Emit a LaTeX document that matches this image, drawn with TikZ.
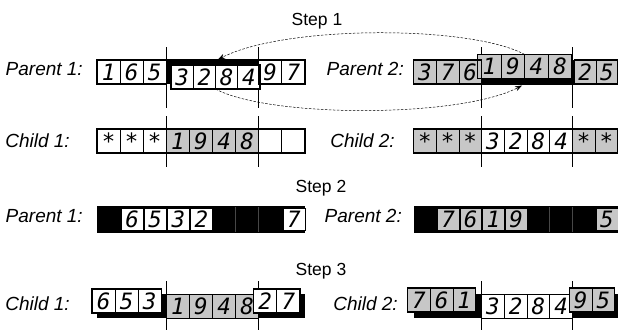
\documentclass[tikz,border=0pt]{standalone}
\usepackage{fontspec}
\setmainfont{Liberation Sans}
\newfontfamily\cellfont{DejaVu Sans Mono Oblique}
\usetikzlibrary{arrows.meta}
\begin{document}
\begin{tikzpicture}[x=1pt,y=-1pt,
  cellbox/.style={draw=black, line width=0.8pt, inner sep=0pt, outer sep=0pt,
    anchor=north west, minimum height=24pt,
    font=\cellfont\fontsize{22.5}{22.5}\selectfont, text height=16.3pt, text depth=0pt},
  inset/.style={cellbox, minimum height=21.5pt, line width=0.6pt},
  grey/.style={fill=black!22},
  wht/.style={fill=white},
  grp/.style={draw=black, line width=1.5pt},
  cutline/.style={draw=black, line width=0.7pt},
  faint/.style={draw=black!72, line width=0.5pt},
  lab/.style={anchor=base east, inner sep=0pt, font=\fontsize{19}{19}\selectfont\itshape},
  steplab/.style={anchor=base, inner sep=0pt, font=\fontsize{17.5}{17.5}\selectfont},
  swap/.style={draw=black, line width=0.5pt, dash pattern=on 2.5pt off 1.5pt,
    -{Stealth[length=7pt,width=5pt]}}]
\useasboundingbox (0,0) rectangle (618,330);

% ---------- labels ----------
\node[steplab] (st1) at (317,25) {Step 1};
\node[steplab] (st2) at (321,192) {Step 2};
\node[steplab] (st3) at (321,275) {Step 3};
\node[lab] (lp1) at (83,75) {Parent 1:};
\node[lab] (lp2) at (404,75) {Parent 2:};
\node[lab] (lc1) at (70,147) {Child 1:};
\node[lab] (lc2) at (395,147) {Child 2:};
\node[lab] (lq1) at (83,222) {Parent 1:};
\node[lab] (lq2) at (402,222) {Parent 2:};
\node[lab] (ld1) at (70,310) {Child 1:};
\node[lab] (ld2) at (398,310) {Child 2:};

% ---------- cut lines ----------
\foreach \x in {166.3,258.7,481.6,572.4}{
  \draw[cutline] (\x,47) -- (\x,108);
  \draw[cutline] (\x,116) -- (\x,167);
  \draw[cutline] (\x,281) -- (\x,330);
}

% ================= STEP 1 =================
% Parent 1
\fill[black] (166.3,59) rectangle (259.7,84);
\foreach \i/\t in {0/1,1/6,2/5}
  \node[cellbox, wht, minimum width=23.1pt] (pa\i) at ({97+\i*23.1},60) {\t};
\foreach \i/\t in {7/9,8/7}
  \node[cellbox, wht, minimum width=23.1pt] (pa\i) at ({97+\i*23.1},60) {\t};
\foreach \i/\t in {0/3,1/2,2/8,3/4}
  \node[cellbox, wht, minimum width=22.25pt] (ps\i) at ({171+\i*22.25},65) {\t};
\draw[grp] (97,60) rectangle (166.3,84);
\draw[grp] (258.7,60) rectangle (305,84);
\draw[grp] (171,65) rectangle (260,89);

% Parent 2
\fill[black] (481.6,60) rectangle (574.4,85);
\foreach \i/\t in {0/3,1/7,2/6}
  \node[cellbox, grey, minimum width=22.7pt] (pb\i) at ({413.5+\i*22.7},60) {\t};
\foreach \i/\t in {0/2,1/5}
  \node[cellbox, grey, minimum width=21.7pt] (pc\i) at ({574.4+\i*21.7},60) {\t};
\foreach \i/\t in {0/1,1/9,2/4,3/8}
  \node[cellbox, grey, minimum width=23.6pt] (qs\i) at ({477.5+\i*23.6},54.5) {\t};
\draw[grp] (413.5,60) rectangle (481.6,84);
\draw[grp] (574.4,60) rectangle (617.8,84);
\draw[grp] (477.5,54.5) rectangle (571.9,78.5);

% Child 1
\foreach \i/\t/\s in {0/*/wht,1/*/wht,2/*/wht,3/1/grey,4/9/grey,5/4/grey,6/8/grey,7//wht,8//wht}
  \node[cellbox, \s, minimum width=23.1pt] (ca\i) at ({97+\i*23.1},129) {\t};
\draw[grp] (97,129) rectangle (305,153);

% Child 2
\foreach \i/\t/\s in {0/*/grey,1/*/grey,2/*/grey,3/3/wht,4/2/wht,5/8/wht,6/4/wht,7/*/grey,8/*/grey}
  \node[cellbox, \s, minimum width=22.7pt] (cb\i) at ({413.5+\i*22.7},129) {\t};
\draw[grp] (413.5,129) rectangle (617.8,153);

% swap arrows
\coordinate (arA) at (218,59.5);
\coordinate (arB) at (522,85.5);
\draw[swap] (qs1.north east) .. controls (470,25) and (285,25) .. (arA);
\draw[swap] (ps1.south east) .. controls (270,118) and (460,118) .. (arB);

% ================= STEP 2 =================
\fill[black] (97,206) rectangle (305,233);
\foreach \x in {235.6,258.7} \draw[faint] (\x,207) -- (\x,232);
\foreach \i/\t in {1/6,2/5,3/3,4/2}
  \node[inset, wht, minimum width=22.1pt] (da\i) at ({98+\i*23.1},208.5) {\t};
\node[inset, wht, minimum width=22.2pt] (da8) at (282.8,208.5) {7};

\fill[black] (413.5,206) rectangle (617.8,233);
\foreach \x in {549.7,572.4} \draw[faint] (\x,207) -- (\x,232);
\foreach \i/\t in {1/7,2/6,3/1,4/9}
  \node[inset, grey, minimum width=21.7pt] (db\i) at ({414.5+\i*22.7},208.5) {\t};
\node[inset, grey, minimum width=21.9pt] (db8) at (595.9,208.5) {5};

% ================= STEP 3 =================
% Child 1
\fill[black] (97,294) rectangle (305,318);
\foreach \i/\t in {3/1,4/9,5/4,6/8}
  \node[cellbox, grey, minimum width=23.1pt] (ea\i) at ({97+\i*23.1},294) {\t};
\foreach \i/\t in {0/6,1/5,2/3,7/2,8/7}
  \node[cellbox, wht, minimum width=23.1pt] (ea\i) at ({92+\i*23.1},289) {\t};
\draw[grp] (92,289) rectangle (161.3,313);
\draw[grp] (253.7,289) rectangle (300,313);

% Child 2
\fill[black] (413.5,294) rectangle (617.8,318);
\foreach \i/\t in {3/3,4/2,5/8,6/4}
  \node[cellbox, wht, minimum width=22.7pt] (eb\i) at ({413.5+\i*22.7},294) {\t};
\foreach \i/\t in {0/7,1/6,2/1}
  \node[cellbox, grey, minimum width=22.7pt] (eb\i) at ({407.5+\i*22.7},288) {\t};
\foreach \i/\t in {7/9,8/5}
  \node[cellbox, grey, minimum width=22.7pt] (eb\i) at ({410.4+\i*22.7},288) {\t};
\draw[grp] (407.5,288) rectangle (475.6,312);
\draw[grp] (569.3,288) rectangle (614.7,312);
\end{tikzpicture}
\end{document}
